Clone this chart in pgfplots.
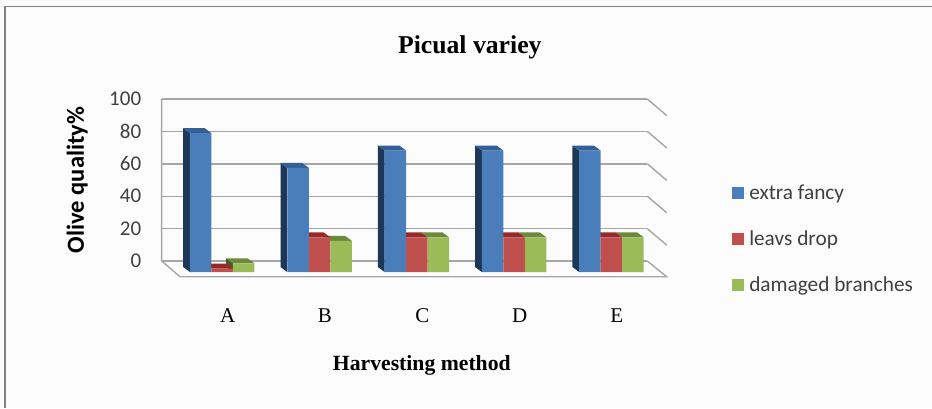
\documentclass[border=0pt]{standalone}
\usepackage{fontspec}
\usepackage{pgfplots}
\pgfplotsset{compat=1.18}
\setmainfont{Carlito}
\newfontfamily\tnr{Liberation Serif}
\definecolor{wallgray}{RGB}{166,166,166}
\definecolor{framegray}{RGB}{130,130,130}
\definecolor{txt}{RGB}{64,64,64}
\definecolor{blfront}{RGB}{74,126,187}
\definecolor{blside}{RGB}{28,55,88}
\definecolor{bltop}{RGB}{52,96,150}
\definecolor{rdfront}{RGB}{192,80,77}
\definecolor{rdtop}{RGB}{150,42,40}
\definecolor{grfront}{RGB}{155,187,89}
\definecolor{grtop}{RGB}{108,138,60}
\definecolor{grside}{RGB}{72,92,36}
\begin{document}
\begin{tikzpicture}[x=1pt,y=1pt]
    \path[use as bounding box,fill=white!99!black] (0,0) rectangle (932,408);
    \draw[framegray,line width=1.5pt] (5,0) -- (5,401.5) -- (932,401.5);

    % back wall and floor, gridlines at the wall scale
    \begin{axis}[
        at={(161.7pt,147pt)}, anchor=south west,
        scale only axis, width=485.6pt, height=162pt,
        xmin=161.7, xmax=647.3, ymin=0, ymax=100,
        clip=false,
        axis line style={draw=none},
        xtick=\empty,
        ytick={0,20,40,60,80,100},
        ymajorgrids,
        grid style={wallgray,line width=1.4pt},
        tick style={draw=none},
        yticklabel style={font=\fontsize{21}{21}\selectfont,text=txt,xshift=-17pt,/pgf/number format/assume math mode=true},
        ylabel={\textbf{Olive quality\%}},
        ylabel style={font=\fontsize{24.5}{24.5}\selectfont,at={(axis description cs:-0.174,0.5)},anchor=center},
    ]
    \addplot[wallgray,line width=1.4pt] coordinates {(161.7,100) (161.7,0) (180,-9.7) (666.7,-9.7) (647.3,0)};
    \addplot[wallgray,line width=1.4pt] coordinates {(647.3,20) (666.7,9.8)};
    \addplot[wallgray,line width=1.4pt] coordinates {(647.3,40) (666.7,29.8)};
    \addplot[wallgray,line width=1.4pt] coordinates {(647.3,60) (666.7,49.8)};
    \addplot[wallgray,line width=1.4pt] coordinates {(647.3,80) (666.7,69.8)};
    \addplot[wallgray,line width=1.4pt] coordinates {(647.3,100) (666.7,89.8)};
    \end{axis}

    % bars, at the front scale
    \begin{axis}[
        at={(173.55pt,136pt)}, anchor=south west,
        scale only axis, width=486.5pt, height=173.5pt,
        xmin=-0.5, xmax=4.5, ymin=0, ymax=100,
        clip=false,
        unbounded coords=jump,
        axis lines=left,
        axis line style={draw=none,-},
        tick style={draw=none},
        ytick=\empty,
        xtick={0,1,2,3,4},
        xticklabels={A,B,C,D,E},
        xticklabel style={font=\fontsize{21}{21}\selectfont\tnr,xshift=5.5pt,yshift=-31pt},
        xlabel={\textbf{Harvesting method}},
        xlabel style={font=\fontsize{21.7}{21.7}\selectfont\tnr,xshift=5pt,yshift=-26pt},
        title={\textbf{Picual variey}},
        title style={font=\fontsize{25.7}{25.7}\selectfont\tnr,xshift=53pt,yshift=30pt},
        legend style={at={(rel axis cs:1.148,0.513)},anchor=north west,draw=none,fill=none,
            font=\fontsize{21.3}{21.3}\selectfont,text=txt,row sep=25.5pt,inner sep=0pt,
            legend cell align=left},
        legend image code/.code={\fill[#1,draw=none] (0pt,-6pt) rectangle (12pt,6pt);\path (0pt,0pt) -- (15pt,0pt);},
    ]
    % green sides and tops
    \addplot[forget plot,fill=grside,draw=none] coordinates {(0.1105,0) (0.0415,2.88) (0.0415,7.88) (0.1105,5)};
    \addplot[forget plot,fill=grtop,draw=none] coordinates {
        (0.1105,5) (0.0415,7.88) (0.2625,7.88) (0.3315,5) (0,nan)
        (1.1105,18) (1.0415,20.88) (1.2625,20.88) (1.3315,18) (0,nan)
        (2.1105,20) (2.0415,22.88) (2.2625,22.88) (2.3315,20) (0,nan)
        (3.1105,20) (3.0415,22.88) (3.2625,22.88) (3.3315,20) (0,nan)
        (4.1105,20) (4.0415,22.88) (4.2625,22.88) (4.3315,20)};
    % red tops
    \addplot[forget plot,fill=rdtop,draw=none] coordinates {
        (-0.1105,2) (-0.1795,4.88) (0.0415,4.88) (0.1105,2) (0,nan)
        (0.8895,20) (0.8205,22.88) (1.0415,22.88) (1.1105,20) (0,nan)
        (1.8895,20) (1.8205,22.88) (2.0415,22.88) (2.1105,20) (0,nan)
        (2.8895,20) (2.8205,22.88) (3.0415,22.88) (3.1105,20) (0,nan)
        (3.8895,20) (3.8205,22.88) (4.0415,22.88) (4.1105,20)};
    % blue sides and tops
    \addplot[forget plot,fill=blside,draw=none] coordinates {
        (-0.3315,0) (-0.4005,2.88) (-0.4005,82.88) (-0.3315,80) (0,nan)
        (0.6685,0) (0.5995,2.88) (0.5995,62.88) (0.6685,60) (0,nan)
        (1.6685,0) (1.5995,2.88) (1.5995,72.88) (1.6685,70) (0,nan)
        (2.6685,0) (2.5995,2.88) (2.5995,72.88) (2.6685,70) (0,nan)
        (3.6685,0) (3.5995,2.88) (3.5995,72.88) (3.6685,70)};
    \addplot[forget plot,fill=bltop,draw=none] coordinates {
        (-0.3315,80) (-0.4005,82.88) (-0.1795,82.88) (-0.1105,80) (0,nan)
        (0.6685,60) (0.5995,62.88) (0.8205,62.88) (0.8895,60) (0,nan)
        (1.6685,70) (1.5995,72.88) (1.8205,72.88) (1.8895,70) (0,nan)
        (2.6685,70) (2.5995,72.88) (2.8205,72.88) (2.8895,70) (0,nan)
        (3.6685,70) (3.5995,72.88) (3.8205,72.88) (3.8895,70)};
    % front faces
    \addplot[ybar,bar width=21.5pt,bar shift=-21.5pt,fill=blfront,draw=none] coordinates {(0,80) (1,60) (2,70) (3,70) (4,70)};
    \addplot[ybar,bar width=21.5pt,bar shift=0pt,fill=rdfront,draw=none] coordinates {(0,2) (1,20) (2,20) (3,20) (4,20)};
    \addplot[ybar,bar width=21.5pt,bar shift=21.5pt,fill=grfront,draw=none] coordinates {(0,5) (1,18) (2,20) (3,20) (4,20)};
    \legend{extra fancy,leavs drop,damaged branches}
    \end{axis}
\end{tikzpicture}
\end{document}
